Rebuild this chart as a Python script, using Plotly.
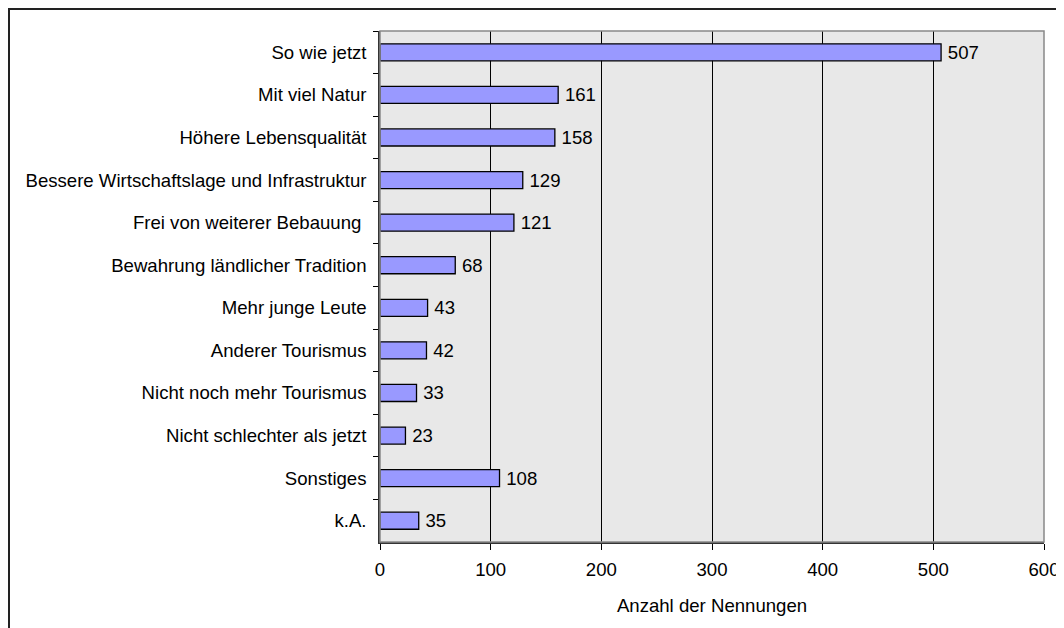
import plotly.graph_objects as go

categories = [
    "So wie jetzt",
    "Mit viel Natur",
    "Höhere Lebensqualität",
    "Bessere Wirtschaftslage und Infrastruktur",
    "Frei von weiterer Bebauung\u00a0",
    "Bewahrung ländlicher Tradition",
    "Mehr junge Leute",
    "Anderer Tourismus",
    "Nicht noch mehr Tourismus",
    "Nicht schlechter als jetzt",
    "Sonstiges",
    "k.A.",
]
values = [507, 161, 158, 129, 121, 68, 43, 42, 33, 23, 108, 35]
x_ticks = [0, 100, 200, 300, 400, 500, 600]
x_title = "Anzahl der Nennungen"

FONT = "Liberation Sans, Arial, sans-serif"
FS = 18.6

W, H = 1064, 628
L, R, T, B = 372, 28, 23, 94
pw, ph = W - L - R, H - T - B

fig = go.Figure(
    go.Bar(
        x=values,
        y=categories,
        orientation="h",
        width=0.4,
        marker=dict(color="#9999FF", line=dict(color="#000000", width=1.3)),
        text=["\u2009" + str(v) for v in values],
        textposition="outside",
        constraintext="none",
        textfont=dict(family=FONT, size=FS, color="#000000"),
        cliponaxis=False,
        showlegend=False,
    )
)

fig.update_layout(
    width=W,
    height=H,
    margin=dict(l=L, r=R, t=T, b=B),
    paper_bgcolor="#FFFFFF",
    plot_bgcolor="#E8E8E8",
    font=dict(family=FONT, size=FS, color="#000000"),
    uniformtext=dict(mode=False),
    shapes=[
        dict(
            type="rect", xref="paper", yref="paper",
            x0=-(L - 1) / pw, x1=1 + (R + 20) / pw,
            y0=-(B + 20) / ph, y1=1 + (T - 1) / ph,
            line=dict(color="#222222", width=2), fillcolor="rgba(0,0,0,0)",
            layer="below",
        ),
        dict(
            type="rect", xref="paper", yref="paper",
            x0=0, x1=1, y0=0, y1=1,
            line=dict(color="#888888", width=1.5), fillcolor="rgba(0,0,0,0)",
        ),
    ],
)

fig.update_xaxes(
    range=[0, 600],
    tickvals=x_ticks,
    ticktext=[str(t) for t in x_ticks],
    ticks="outside",
    ticklen=6,
    tickcolor="#000000",
    showgrid=True,
    gridcolor="#000000",
    gridwidth=1,
    zeroline=False,
    showline=True,
    linecolor="#333333",
    linewidth=1.5,
    ticklabelstandoff=4,
    title=dict(text=x_title, font=dict(family=FONT, size=FS), standoff=20),
    tickfont=dict(family=FONT, size=FS),
)

fig.update_yaxes(
    categoryorder="array",
    categoryarray=categories,
    autorange="reversed",
    ticks="outside",
    tickson="boundaries",
    ticklen=5,
    tickcolor="#000000",
    showgrid=False,
    showline=True,
    linecolor="#333333",
    linewidth=1.5,
    tickfont=dict(family=FONT, size=FS),
    ticklabelstandoff=8,
)

fig.write_html("out.html")
